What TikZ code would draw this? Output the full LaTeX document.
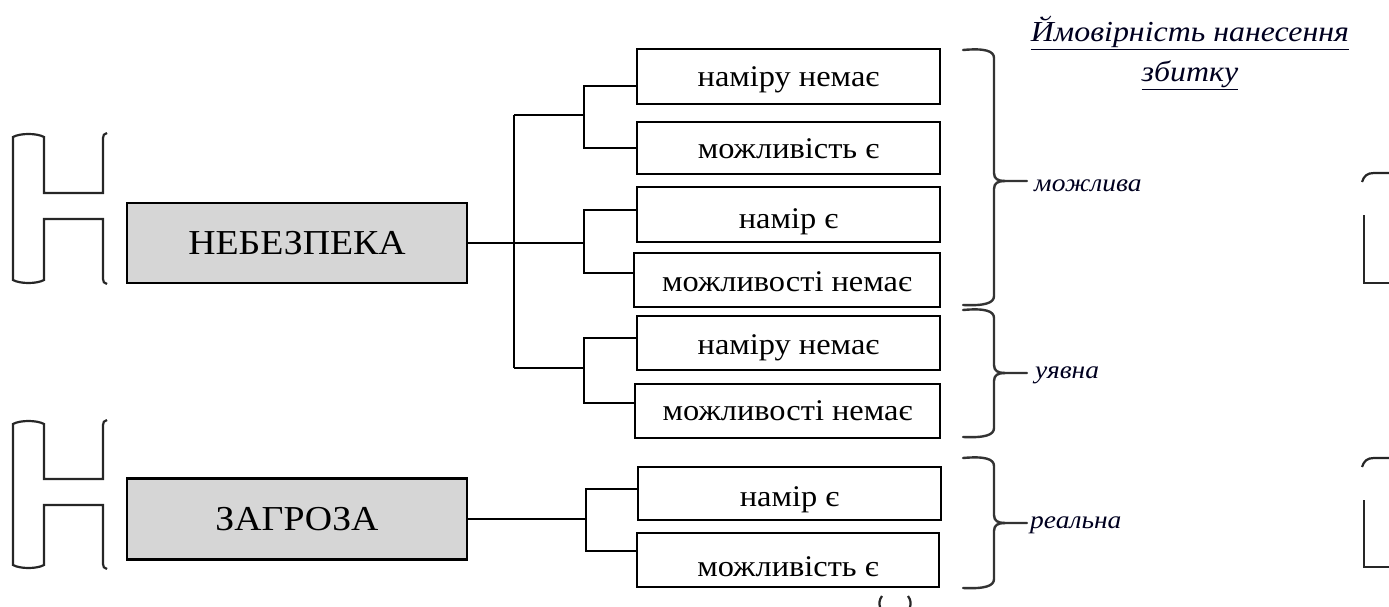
\documentclass[tikz,border=0pt]{standalone}
\usepackage{fontspec}
\setmainfont{Liberation Serif}
\newfontfamily\boxfont{Liberation Serif}[FakeStretch=1.08]
\newfontfamily\headfont{Liberation Serif}[FakeStretch=1.1]
\usetikzlibrary{calc}

\tikzset{
  mainbox/.style={draw, line width=2.8pt, fill=black!16, inner sep=0pt,
    minimum width=340pt, minimum height=80pt,
    font=\boxfont\fontsize{35}{40}\selectfont},
  smallbox/.style={draw, line width=2.8pt, fill=white, inner sep=0pt,
    minimum width=303pt, minimum height=54pt, text depth=0pt, text height=23.5pt,
    font=\boxfont\fontsize{30}{34}\selectfont},
  link/.style={line width=2.8pt, line join=miter},
  bracket/.style={line width=2.2pt, draw=black!85},
  curly/.style={line width=2.4pt, draw=black!80, line cap=round},
  tag/.style={anchor=west, inner sep=0pt, text=black!80!blue!60!black,
    font=\headfont\fontsize{25}{30}\selectfont\itshape},
}

% a right-hand brace: top, middle, bottom (y values)
\newcommand{\sidebrace}[3]{%
  \draw[curly] (963,#1) .. controls (985,#1-2) and (994,#1+1) .. (994,#1+8)
    -- (994,#2-8) .. controls (994,#2-2) and (998,#2) .. (1005,#2) -- (1027,#2);
  \draw[curly] (1005,#2) .. controls (998,#2) and (994,#2+2) .. (994,#2+8)
    -- (994,#3-8) .. controls (994,#3-1) and (985,#3+2) .. (963,#3+1);
}

% a left-hand double bracket: top, upper bar, lower bar, bottom
\newcommand{\twinbracket}[4]{%
  \draw[bracket] (107,#1-2) .. controls (104,#1-1) and (103,#1) .. (103,#1+3)
    -- (103,#2) -- (44,#2) -- (44,#1+2)
    .. controls (37,#1-2) and (20,#1-2) .. (13,#1+2)
    -- (13,#4-2) .. controls (20,#4+2) and (37,#4+2) .. (44,#4-2)
    -- (44,#3) -- (103,#3) -- (103,#4-3)
    .. controls (103,#4) and (104,#4+1) .. (107,#4+2);
}

\begin{document}
\begin{tikzpicture}[x=1pt, y=-1pt]
  \useasboundingbox (0,0) rectangle (1389,607);

  % main concepts
  \node[mainbox] (neb) at (297,243) {НЕБЕЗПЕКА};
  \node[mainbox, minimum height=81pt] (zag) at (297,519) {ЗАГРОЗА};

  % conditions
  \node[smallbox, minimum height=55pt, text height=20.5pt] (b1) at (788.5,76.5) {наміру немає};
  \node[smallbox, minimum height=52pt, text height=21.5pt] (b2) at (788.5,148) {можливість є};
  \node[smallbox, minimum height=55pt, text height=28.5pt] (b3) at (788.5,214.5) {намір є};
  \node[smallbox, minimum width=306pt] (b4) at (787,280) {можливості немає};
  \node[smallbox] (b5) at (788.5,343) {наміру немає};
  \node[smallbox, minimum width=305pt, text height=19.5pt] (b6) at (787.5,411) {можливості немає};
  \node[smallbox, minimum height=53pt, text height=26.5pt] (b7) at (789.5,493.5) {намір є};
  \node[smallbox, minimum width=302pt, text height=33pt] (b8) at (788,560) {можливість є};

  % branching lines
  \coordinate (tt) at (514,115);
  \coordinate (tb) at (514,368);
  \coordinate (s1) at (584,115);
  \coordinate (s2) at (584,243);
  \coordinate (s3) at (584,368);
  \coordinate (s4) at (586,519);

  \draw[link] (tt) -- (tb);
  \draw[link] (tt) -- (s1);
  \draw[link] (tb) -- (s3);
  \draw[link] (neb.east) -- (s2);
  \draw[link] ($(b1.west)+(0,9.5)$) -| (s1) |- (b2.west);
  \draw[link] ($(b3.west)+(0,-4.5)$) -| (s2) |- ($(b4.west)+(0,-7)$);
  \draw[link] ($(b5.west)+(0,-5)$) -| (s3) |- ($(b6.west)+(0,-8)$);
  \draw[link] (zag.east) -- (s4);
  \draw[link] ($(b7.west)+(0,-4.5)$) -| (s4) |- ($(b8.west)+(0,-9)$);

  % braces and their labels
  \sidebrace{50}{181}{304}
  \sidebrace{310}{373}{436}
  \sidebrace{458}{523}{587}
  \node[tag] (l1) at (1034,186) {можлива};
  \node[tag] (l2) at (1035,375) {уявна};
  \node[tag] (l3) at (1030,525) {реальна};

  % heading of the right column
  \node[tag, anchor=center, align=center, font=\headfont\fontsize{29}{40}\selectfont\itshape]
    (head) at (1190,53) {\underline{Ймовірність нанесення}\\\underline{збитку}};

  % brackets on the left edge
  \twinbracket{135}{193}{219}{282}
  \twinbracket{422}{479}{505}{567}

  % brackets cut by the right edge
  \draw[bracket] (1362,182) .. controls (1364,176) and (1367,173) .. (1374,173) -- (1389,173);
  \draw[bracket] (1364,215) -- (1364,283) -- (1389,283);
  \draw[bracket] (1362,467) .. controls (1364,461) and (1367,458) .. (1374,458) -- (1389,458);
  \draw[bracket] (1364,500) -- (1364,567) -- (1389,567);

  % marks cut by the bottom edge
  \draw[bracket] (882,596) .. controls (879,600) and (879,604) .. (880,607);
  \draw[bracket] (908,596) .. controls (911,600) and (911,604) .. (910,607);
\end{tikzpicture}
\end{document}
